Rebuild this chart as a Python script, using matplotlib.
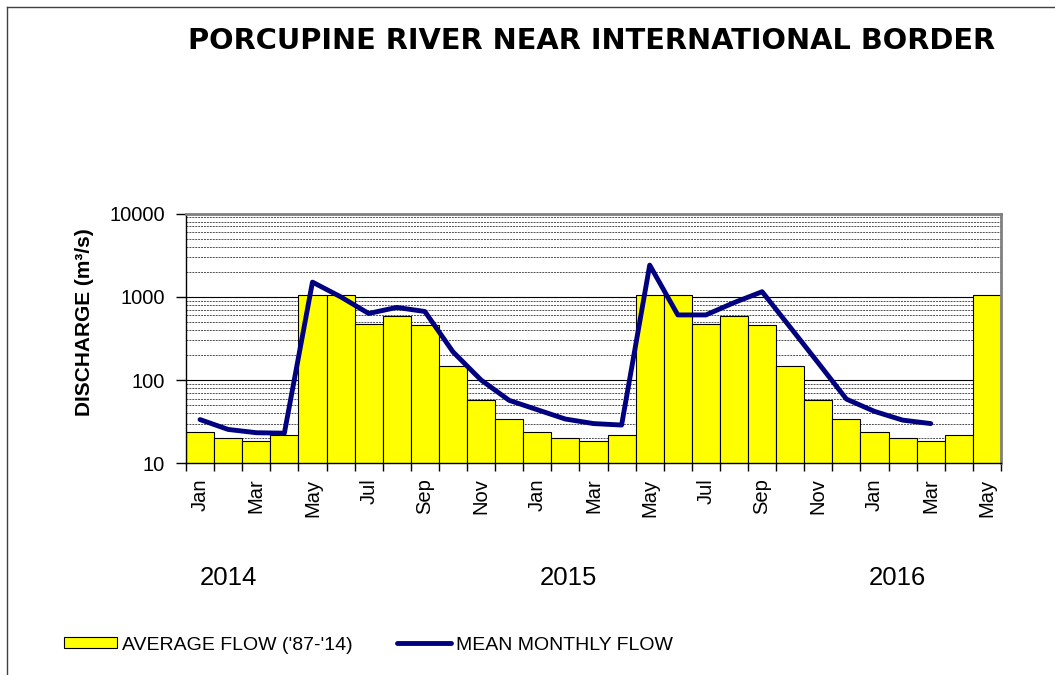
import numpy as np
import matplotlib
matplotlib.use("Agg")
import matplotlib.pyplot as plt
import matplotlib.transforms as mtransforms
from matplotlib.lines import Line2D
from matplotlib.patches import Patch
from matplotlib.ticker import FixedLocator, LogLocator, NullFormatter

plt.rcParams["font.family"] = ["Liberation Sans", "DejaVu Sans"]

# --- data (m3/s) ---
TITLE = "PORCUPINE RIVER NEAR INTERNATIONAL BORDER"
MONTH_LABELS = ["Jan", "Mar", "May", "Jul", "Sep", "Nov",
                "Jan", "Mar", "May", "Jul", "Sep", "Nov",
                "Jan", "Mar", "May"]
YEARS = ["2014", "2015", "2016"]

# long-term average ('87-'14), Jan 2014 .. May 2016
AVG_FLOW = [24, 20, 18.4, 22, 1050, 1050, 470, 580, 460, 146, 58, 34,
            24, 20, 18.4, 22, 1050, 1050, 470, 580, 460, 146, 58, 34,
            24, 20, 18.4, 22, 1050]
# observed mean monthly flow, Jan 2014 .. Mar 2016
MEAN_FLOW = [33.5, 25.5, 23.3, 23, 1500, 1000, 630, 745, 665, 218, 100, 57,
             44, 34, 30, 28.8, 2400, 605, 605, 850, 1150, 430, 160, 59,
             42, 33, 30]

W, H = 1055, 675
fig = plt.figure(figsize=(W / 100, H / 100), dpi=100)
ax = fig.add_axes([186 / W, 1 - 463.3 / H, 815 / W, 249.8 / H])

x_avg = np.arange(len(AVG_FLOW))
x_mean = np.arange(len(MEAN_FLOW))

ax.bar(x_avg, AVG_FLOW, width=1.0, color="#ffff00", edgecolor="black",
       linewidth=0.8, zorder=2)
ax.plot(x_mean, MEAN_FLOW, color="#000080", lw=3.5, zorder=3,
        solid_capstyle="round")

# log axis 10 .. 10000
ax.set_yscale("log")
ax.set_ylim(10, 10000)
ax.set_xlim(-0.5, len(AVG_FLOW) - 0.5)
ax.yaxis.set_major_locator(FixedLocator([10, 100, 1000, 10000]))
ax.yaxis.set_minor_locator(LogLocator(base=10, subs=range(2, 10)))
ax.yaxis.set_minor_formatter(NullFormatter())
ax.set_yticklabels(["10", "100", "1000", "10000"])
ax.tick_params(axis="y", which="major", direction="out", length=7,
               width=1, pad=8, labelsize=14.5)
ax.tick_params(axis="y", which="minor", length=0)
ax.grid(axis="y", which="major", color="black", lw=0.8)
ax.grid(axis="y", which="minor", color="#505050", lw=0.7, ls=(0, (2, 1)))
ax.set_axisbelow(True)

# ticks between bars, labels every other month on the bars
ax.set_xticks(np.arange(len(AVG_FLOW) + 1) - 0.5)
ax.set_xticklabels([])
ax.set_xticks(np.arange(0, len(AVG_FLOW), 2), minor=True)
ax.set_xticklabels(MONTH_LABELS, minor=True, rotation=90)
ax.tick_params(axis="x", which="major", direction="out", length=6, width=1)
ax.tick_params(axis="x", which="minor", length=0, pad=11, labelsize=14.5)

for side in ("top", "right"):
    ax.spines[side].set_color("#808080")
    ax.spines[side].set_linewidth(2)
for side in ("left", "bottom"):
    ax.spines[side].set_color("black")
    ax.spines[side].set_linewidth(1)

# year labels under the month labels
trans = mtransforms.blended_transform_factory(ax.transData, fig.transFigure)
for xpos, yr in zip([1, 13.1, 24.8], YEARS):
    ax.text(xpos, 1 - 585 / H, yr, transform=trans, ha="center",
            va="baseline", fontsize=18.5)

fig.text(592 / W, 1 - 49.3 / H, TITLE, ha="center", va="baseline",
         fontsize=20.8, fontweight="bold", family=["DejaVu Sans"])
fig.text(85 / W, 1 - 322 / H, "DISCHARGE (m³/s)", rotation=90,
         ha="center", va="center", fontsize=15, fontweight="bold")

handles = [
    Patch(facecolor="#ffff00", edgecolor="black", lw=0.8,
          label="AVERAGE FLOW ('87-'14)"),
    Line2D([], [], color="#000080", lw=3.5, solid_capstyle="round",
           label="MEAN MONTHLY FLOW"),
]
fig.legend(handles=handles, loc="center left",
           bbox_to_anchor=(64 / W, 30 / H), ncol=2, frameon=False,
           fontsize=14, handlelength=2.73, handleheight=0.52,
           handletextpad=0.26, columnspacing=2.3, borderpad=0,
           borderaxespad=0)

# chart-area frame (only top and left edges show in the reference)
fig.add_artist(Line2D([7 / W, 1], [1 - 7 / H, 1 - 7 / H],
                      transform=fig.transFigure, color="#404040", lw=1))
fig.add_artist(Line2D([7 / W, 7 / W], [0, 1 - 7 / H],
                      transform=fig.transFigure, color="#404040", lw=1))

fig.savefig("out.png", dpi=100, facecolor="white")
